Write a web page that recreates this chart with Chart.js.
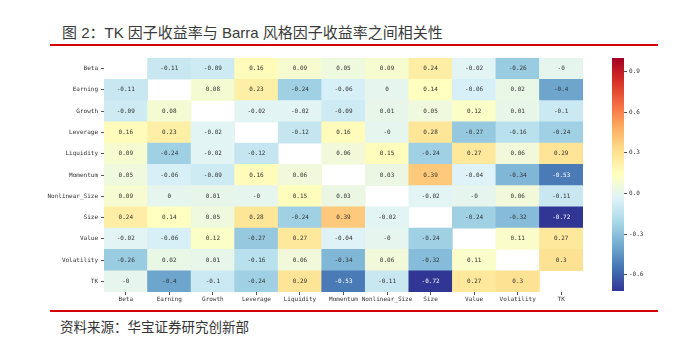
<!DOCTYPE html>
<html><head><meta charset="utf-8">
<script src="https://cdn.jsdelivr.net/npm/chart.js@4/dist/chart.umd.min.js"></script>
<style>
html,body{margin:0;padding:0;background:#fff;}
body{width:700px;height:353px;position:relative;overflow:hidden;}
#title{position:absolute;left:62px;top:21px;font:15px "Liberation Sans","Noto Sans CJK SC",sans-serif;color:#3a3a3a;white-space:nowrap;}
.rule{position:absolute;left:50px;width:608px;height:2px;background:#d40000;}
#src{position:absolute;left:60px;top:316px;font:13.5px "Noto Sans CJK SC",sans-serif;color:#333;white-space:nowrap;}
#main{position:absolute;left:0;top:0;}
#cbar{position:absolute;left:600px;top:0;}
</style></head>
<body>
<div id="title">图 2：TK 因子收益率与 Barra 风格因子收益率之间相关性</div>
<div class="rule" style="top:44px"></div>
<div class="rule" style="top:310px"></div>
<div id="src">资料来源：华宝证券研究创新部</div>
<canvas id="main" width="700" height="353"></canvas>
<canvas id="cbar" width="100" height="353"></canvas>
<script>
// ---- data ----
const factors = ['Beta','Earning','Growth','Leverage','Liquidity','Momentum','Nonlinear_Size','Size','Value','Volatility','TK'];
const rowBeta          = [null, -0.11, -0.09,  0.16,  0.09,  0.05,  0.09,  0.24, -0.02, -0.26,   -0];
const rowEarning       = [-0.11, null,  0.08,  0.23, -0.24, -0.06,     0,  0.14, -0.06,  0.02, -0.4];
const rowGrowth        = [-0.09, 0.08,  null, -0.02, -0.02, -0.09,  0.01,  0.05,  0.12,  0.01, -0.1];
const rowLeverage      = [ 0.16, 0.23, -0.02,  null, -0.12,  0.16,    -0,  0.28, -0.27, -0.16, -0.24];
const rowLiquidity     = [ 0.09,-0.24, -0.02, -0.12,  null,  0.06,  0.15, -0.24,  0.27,  0.06,  0.29];
const rowMomentum      = [ 0.05,-0.06, -0.09,  0.16,  0.06,  null,  0.03,  0.39, -0.04, -0.34, -0.53];
const rowNonlinearSize = [ 0.09,    0,  0.01,    -0,  0.15,  0.03,  null, -0.02,    -0,  0.06, -0.11];
const rowSize          = [ 0.24, 0.14,  0.05,  0.28, -0.24,  0.39, -0.02,  null, -0.24, -0.32, -0.72];
const rowValue         = [-0.02,-0.06,  0.12, -0.27,  0.27, -0.04,    -0, -0.24,  null,  0.11,  0.27];
const rowVolatility    = [-0.26, 0.02,  0.01, -0.16,  0.06, -0.34,  0.06, -0.32,  0.11,  null,   0.3];
const rowTK            = [   -0, -0.4,  -0.1, -0.24,  0.29, -0.53, -0.11, -0.72,  0.27,   0.3,  null];
const colorbarMin = -0.72;
const colorbarMax = 1.0;
const colorbarTicks = [-0.6, -0.3, 0.0, 0.3, 0.6, 0.9];

const matrix = [rowBeta,rowEarning,rowGrowth,rowLeverage,rowLiquidity,rowMomentum,rowNonlinearSize,rowSize,rowValue,rowVolatility,rowTK];

// RdYlBu_r colormap
const cmap = ['#313695','#4575b4','#74add1','#abd9e9','#e0f3f8','#ffffbf','#fee090','#fdae61','#f46d43','#d73027','#a50026'];
function hex(h){return [parseInt(h.substr(1,2),16),parseInt(h.substr(3,2),16),parseInt(h.substr(5,2),16)];}
function colorRGB(v){
  let t=(v-colorbarMin)/(colorbarMax-colorbarMin); t=Math.max(0,Math.min(1,t));
  const p=t*(cmap.length-1); const i=Math.min(Math.floor(p),cmap.length-2); const f=p-i;
  const a=hex(cmap[i]), b=hex(cmap[i+1]);
  return a.map((c,k)=>Math.round(c+(b[k]-c)*f));
}
function color(v){const c=colorRGB(v);return `rgb(${c[0]},${c[1]},${c[2]})`;}
function lum(v){const c=colorRGB(v).map(x=>{x/=255;return x<=0.03928?x/12.92:Math.pow((x+0.055)/1.055,2.4);});return 0.2126*c[0]+0.7152*c[1]+0.0722*c[2];}
function fmt(v){ if(Object.is(v,-0)) return '-0'; return String(+v.toFixed(2)); }

const n = factors.length;
// stack from bottom: TK first
const datasets = [];
for(let d=0; d<n; d++){
  const r = n-1-d;
  datasets.push({
    label: factors[r],
    data: factors.map(()=>1),
    backgroundColor: matrix[r].map(v=> v===null ? 'rgba(255,255,255,0)' : color(v)),
    borderWidth: 0,
    barPercentage: 1.0,
    categoryPercentage: 1.0,
    rowIndex: r
  });
}

const annot = {
  id:'annot',
  afterDatasetsDraw(chart){
    const ctx=chart.ctx;
    ctx.save();
    ctx.font='6px "DejaVu Sans Mono", monospace';
    ctx.textAlign='center'; ctx.textBaseline='middle';
    chart.data.datasets.forEach((ds,di)=>{
      const meta=chart.getDatasetMeta(di);
      meta.data.forEach((el,j)=>{
        const v=matrix[ds.rowIndex][j];
        if(v===null) return;
        ctx.fillStyle = lum(v)<0.2 ? '#ffffff' : '#333333';
        ctx.fillText(fmt(v), el.x, (el.y+el.base)/2);
      });
    });
    ctx.restore();
  }
};

const tickFont = {family:'"DejaVu Sans Mono", monospace', size:6};
new Chart(document.getElementById('main'), {
  type:'bar',
  data:{labels:factors, datasets},
  plugins:[annot],
  options:{
    responsive:false, animation:false,
    layout:{padding:{left:0,right:117,top:58,bottom:41}},
    plugins:{legend:{display:false},tooltip:{enabled:false}},
    scales:{
      x:{type:'category', stacked:true,
         grid:{display:true, drawOnChartArea:false, drawTicks:true, tickLength:3, offset:false, color:'#555'},
         border:{display:false},
         ticks:{font:tickFont, color:'#333', padding:1, maxRotation:0, autoSkip:false},
         afterFit(s){s.height=20;}
      },
      y:{type:'linear', stacked:true, min:0, max:n,
         grid:{display:true, drawOnChartArea:false, drawTicks:true, tickLength:3, color:'#555'},
         border:{display:false},
         afterBuildTicks(s){ s.ticks = factors.map((f,i)=>({value: n-0.5-i})); },
         ticks:{font:tickFont, color:'#333', padding:3, autoSkip:false,
                callback:(val)=>factors[Math.round(n-0.5-val)]},
         afterFit(s){s.width=104;}
      }
    }
  }
});

// colorbar
new Chart(document.getElementById('cbar'), {
  type:'bar',
  data:{labels:['cb'], datasets:[{
    data:[[colorbarMin, colorbarMax]],
    barPercentage:1.0, categoryPercentage:1.0, borderWidth:0,
    backgroundColor:(c)=>{
      const a=c.chart.chartArea; if(!a) return cmap[5];
      const g=c.chart.ctx.createLinearGradient(0,a.bottom,0,a.top);
      cmap.forEach((h,i)=>g.addColorStop(i/(cmap.length-1),h));
      return g;
    }
  }]},
  options:{
    responsive:false, animation:false,
    layout:{padding:{left:12,right:0,top:58,bottom:62}},
    plugins:{legend:{display:false},tooltip:{enabled:false}},
    scales:{
      x:{display:false},
      y:{position:'right', min:colorbarMin, max:colorbarMax,
         grid:{display:true, drawOnChartArea:false, drawTicks:true, tickLength:3, color:'#555'},
         border:{display:false},
         afterBuildTicks(s){ s.ticks = colorbarTicks.map(v=>({value:v})); },
         ticks:{font:tickFont, color:'#333', padding:2, callback:(v)=>v.toFixed(1)},
         afterFit(s){s.width=76;}
      }
    }
  }
});
</script>
</body></html>
